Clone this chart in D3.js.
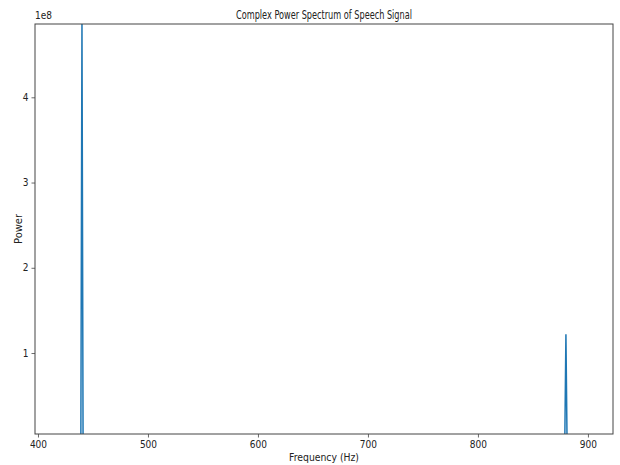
<!DOCTYPE html>
<html>
<head>
<meta charset="utf-8">
<script src="https://cdn.jsdelivr.net/npm/d3@7"></script>
<style>
  body { margin: 0; background: #fff; }
  text { font-family: "DejaVu Sans", sans-serif; fill: #222; }
</style>
</head>
<body>
<svg id="chart" width="620" height="465"></svg>
<script>
// Spectrum samples: frequency (Hz) and power
const frequencies = [397, 439, 440, 441, 879, 880, 881, 923];
const powers = [0, 0, 4.9e8, 0, 0, 1.22e8, 0, 0];

const xTicks = [400, 500, 600, 700, 800, 900];
const yTicks = [1e8, 2e8, 3e8, 4e8];

const titleText = "Complex Power Spectrum of Speech Signal";
const xLabel = "Frequency (Hz)";
const yLabel = "Power";

const data = frequencies.map((f, i) => ({ f, p: powers[i] }));

const svg = d3.select("#chart");
const margin = { left: 35, right: 7, top: 24, bottom: 31 };
const W = 620, H = 465;
const iw = W - margin.left - margin.right;
const ih = H - margin.top - margin.bottom;

const x = d3.scaleLinear().domain([397.3, 922.8]).range([0, iw]);
const y = d3.scaleLinear().domain([0.05e8, 4.86e8]).range([ih, 0]);

const g = svg.append("g").attr("transform", `translate(${margin.left},${margin.top})`);

g.append("clipPath").attr("id", "plot-clip")
  .append("rect").attr("width", iw).attr("height", ih);

const line = d3.line().x(d => x(d.f)).y(d => y(d.p));

g.append("path")
  .datum(data)
  .attr("clip-path", "url(#plot-clip)")
  .attr("fill", "none")
  .attr("stroke", "#1f77b4")
  .attr("stroke-width", 1.5)
  .attr("d", line);

// Axes
const xAxis = d3.axisBottom(x).tickValues(xTicks).tickSize(3.5).tickPadding(3).tickFormat(d3.format("d"));
const yAxis = d3.axisLeft(y).tickValues(yTicks).tickSize(3.5).tickPadding(3).tickFormat(d => d / 1e8);

const gx = g.append("g").attr("transform", `translate(0,${ih})`).call(xAxis);
const gy = g.append("g").call(yAxis);
[gx, gy].forEach(a => {
  a.select(".domain").remove();
  a.selectAll("line").attr("stroke", "#444").attr("stroke-width", 0.8);
  a.selectAll("text").style("font-size", "10px").style("font-family", "DejaVu Sans Condensed, DejaVu Sans, sans-serif").attr("fill", "#222");
});

// Frame
g.append("rect")
  .attr("width", iw).attr("height", ih)
  .attr("fill", "none").attr("stroke", "#444").attr("stroke-width", 1);

// Offset label
g.append("text").attr("x", 0).attr("y", -5)
  .style("font-size", "10px")
  .style("font-family", "DejaVu Sans Condensed, DejaVu Sans, sans-serif")
  .text("1e8");

// Title and axis labels
svg.append("text")
  .attr("x", margin.left + iw / 2).attr("y", 19)
  .attr("text-anchor", "middle")
  .attr("textLength", 176).attr("lengthAdjust", "spacingAndGlyphs")
  .style("font-size", "13px")
  .text(titleText);

svg.append("text")
  .attr("x", margin.left + iw / 2).attr("y", 461)
  .attr("text-anchor", "middle")
  .attr("textLength", 70).attr("lengthAdjust", "spacingAndGlyphs")
  .style("font-size", "10.5px")
  .text(xLabel);

svg.append("text")
  .attr("transform", `translate(22,${margin.top + ih / 2}) rotate(-90)`)
  .attr("text-anchor", "middle")
  .attr("textLength", 30).attr("lengthAdjust", "spacingAndGlyphs")
  .style("font-size", "10.5px")
  .text(yLabel);
</script>
</body>
</html>
